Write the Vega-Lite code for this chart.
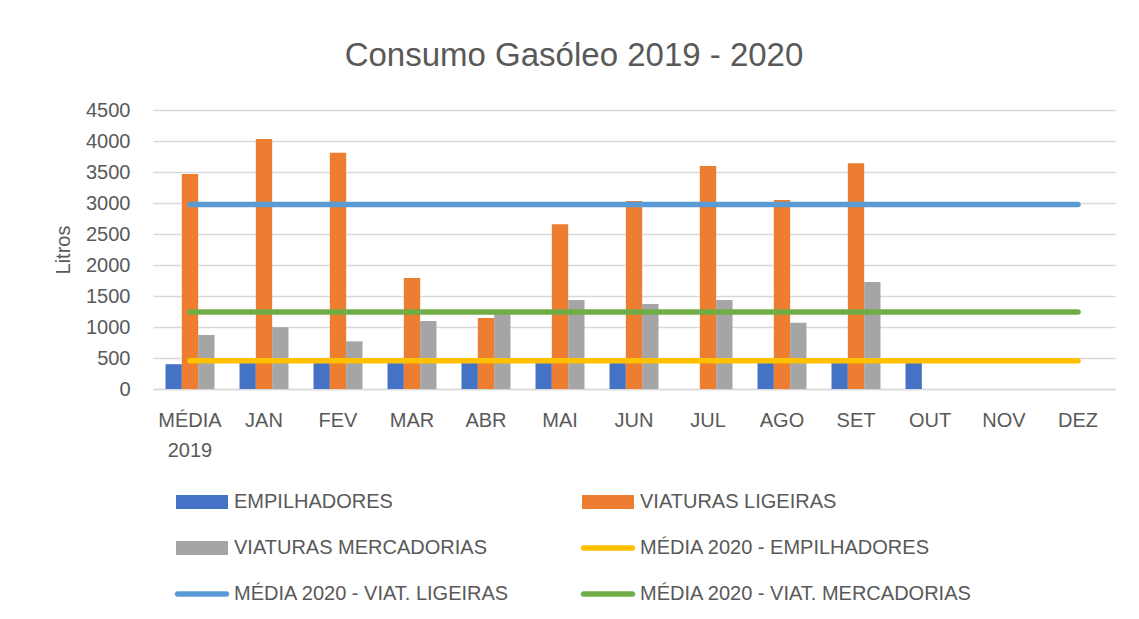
{
  "$schema": "https://vega.github.io/schema/vega-lite/v6.json",
  "width": 962,
  "height": 279,
  "autosize": {"type": "none"},
  "padding": {"left": 153, "top": 110, "right": 24, "bottom": 230},
  "background": "white",
  "config": {"font": "Liberation Sans", "view": {"stroke": null}},
  "title": {"text": "Consumo Gasóleo 2019 - 2020", "fontSize": 33, "fontWeight": "normal", "color": "#595959", "anchor": "middle", "dx": -60, "offset": 27},
  "datasets": {
    "bars": [
      {"cat": "MÉDIA 2019", "series": "EMPILHADORES", "value": 400},
      {"cat": "MÉDIA 2019", "series": "VIATURAS LIGEIRAS", "value": 3468},
      {"cat": "MÉDIA 2019", "series": "VIATURAS MERCADORIAS", "value": 871},
      {"cat": "JAN", "series": "EMPILHADORES", "value": 488},
      {"cat": "JAN", "series": "VIATURAS LIGEIRAS", "value": 4032},
      {"cat": "JAN", "series": "VIATURAS MERCADORIAS", "value": 995},
      {"cat": "FEV", "series": "EMPILHADORES", "value": 485},
      {"cat": "FEV", "series": "VIATURAS LIGEIRAS", "value": 3811},
      {"cat": "FEV", "series": "VIATURAS MERCADORIAS", "value": 769},
      {"cat": "MAR", "series": "EMPILHADORES", "value": 490},
      {"cat": "MAR", "series": "VIATURAS LIGEIRAS", "value": 1790},
      {"cat": "MAR", "series": "VIATURAS MERCADORIAS", "value": 1097},
      {"cat": "ABR", "series": "EMPILHADORES", "value": 482},
      {"cat": "ABR", "series": "VIATURAS LIGEIRAS", "value": 1145},
      {"cat": "ABR", "series": "VIATURAS MERCADORIAS", "value": 1258},
      {"cat": "MAI", "series": "EMPILHADORES", "value": 488},
      {"cat": "MAI", "series": "VIATURAS LIGEIRAS", "value": 2656},
      {"cat": "MAI", "series": "VIATURAS MERCADORIAS", "value": 1435},
      {"cat": "JUN", "series": "EMPILHADORES", "value": 485},
      {"cat": "JUN", "series": "VIATURAS LIGEIRAS", "value": 3032},
      {"cat": "JUN", "series": "VIATURAS MERCADORIAS", "value": 1371},
      {"cat": "JUL", "series": "EMPILHADORES", "value": 0},
      {"cat": "JUL", "series": "VIATURAS LIGEIRAS", "value": 3597},
      {"cat": "JUL", "series": "VIATURAS MERCADORIAS", "value": 1435},
      {"cat": "AGO", "series": "EMPILHADORES", "value": 488},
      {"cat": "AGO", "series": "VIATURAS LIGEIRAS", "value": 3048},
      {"cat": "AGO", "series": "VIATURAS MERCADORIAS", "value": 1070},
      {"cat": "SET", "series": "EMPILHADORES", "value": 490},
      {"cat": "SET", "series": "VIATURAS LIGEIRAS", "value": 3640},
      {"cat": "SET", "series": "VIATURAS MERCADORIAS", "value": 1726},
      {"cat": "OUT", "series": "EMPILHADORES", "value": 492}
    ],
    "lines": [
      {"cat": "MÉDIA 2019", "series": "MÉDIA 2020 - EMPILHADORES", "value": 455},
      {"cat": "JAN", "series": "MÉDIA 2020 - EMPILHADORES", "value": 455},
      {"cat": "FEV", "series": "MÉDIA 2020 - EMPILHADORES", "value": 455},
      {"cat": "MAR", "series": "MÉDIA 2020 - EMPILHADORES", "value": 455},
      {"cat": "ABR", "series": "MÉDIA 2020 - EMPILHADORES", "value": 455},
      {"cat": "MAI", "series": "MÉDIA 2020 - EMPILHADORES", "value": 455},
      {"cat": "JUN", "series": "MÉDIA 2020 - EMPILHADORES", "value": 455},
      {"cat": "JUL", "series": "MÉDIA 2020 - EMPILHADORES", "value": 455},
      {"cat": "AGO", "series": "MÉDIA 2020 - EMPILHADORES", "value": 455},
      {"cat": "SET", "series": "MÉDIA 2020 - EMPILHADORES", "value": 455},
      {"cat": "OUT", "series": "MÉDIA 2020 - EMPILHADORES", "value": 455},
      {"cat": "NOV", "series": "MÉDIA 2020 - EMPILHADORES", "value": 455},
      {"cat": "DEZ", "series": "MÉDIA 2020 - EMPILHADORES", "value": 455},
      {"cat": "MÉDIA 2019", "series": "MÉDIA 2020 - VIAT. LIGEIRAS", "value": 2975},
      {"cat": "JAN", "series": "MÉDIA 2020 - VIAT. LIGEIRAS", "value": 2975},
      {"cat": "FEV", "series": "MÉDIA 2020 - VIAT. LIGEIRAS", "value": 2975},
      {"cat": "MAR", "series": "MÉDIA 2020 - VIAT. LIGEIRAS", "value": 2975},
      {"cat": "ABR", "series": "MÉDIA 2020 - VIAT. LIGEIRAS", "value": 2975},
      {"cat": "MAI", "series": "MÉDIA 2020 - VIAT. LIGEIRAS", "value": 2975},
      {"cat": "JUN", "series": "MÉDIA 2020 - VIAT. LIGEIRAS", "value": 2975},
      {"cat": "JUL", "series": "MÉDIA 2020 - VIAT. LIGEIRAS", "value": 2975},
      {"cat": "AGO", "series": "MÉDIA 2020 - VIAT. LIGEIRAS", "value": 2975},
      {"cat": "SET", "series": "MÉDIA 2020 - VIAT. LIGEIRAS", "value": 2975},
      {"cat": "OUT", "series": "MÉDIA 2020 - VIAT. LIGEIRAS", "value": 2975},
      {"cat": "NOV", "series": "MÉDIA 2020 - VIAT. LIGEIRAS", "value": 2975},
      {"cat": "DEZ", "series": "MÉDIA 2020 - VIAT. LIGEIRAS", "value": 2975},
      {"cat": "MÉDIA 2019", "series": "MÉDIA 2020 - VIAT. MERCADORIAS", "value": 1240},
      {"cat": "JAN", "series": "MÉDIA 2020 - VIAT. MERCADORIAS", "value": 1240},
      {"cat": "FEV", "series": "MÉDIA 2020 - VIAT. MERCADORIAS", "value": 1240},
      {"cat": "MAR", "series": "MÉDIA 2020 - VIAT. MERCADORIAS", "value": 1240},
      {"cat": "ABR", "series": "MÉDIA 2020 - VIAT. MERCADORIAS", "value": 1240},
      {"cat": "MAI", "series": "MÉDIA 2020 - VIAT. MERCADORIAS", "value": 1240},
      {"cat": "JUN", "series": "MÉDIA 2020 - VIAT. MERCADORIAS", "value": 1240},
      {"cat": "JUL", "series": "MÉDIA 2020 - VIAT. MERCADORIAS", "value": 1240},
      {"cat": "AGO", "series": "MÉDIA 2020 - VIAT. MERCADORIAS", "value": 1240},
      {"cat": "SET", "series": "MÉDIA 2020 - VIAT. MERCADORIAS", "value": 1240},
      {"cat": "OUT", "series": "MÉDIA 2020 - VIAT. MERCADORIAS", "value": 1240},
      {"cat": "NOV", "series": "MÉDIA 2020 - VIAT. MERCADORIAS", "value": 1240},
      {"cat": "DEZ", "series": "MÉDIA 2020 - VIAT. MERCADORIAS", "value": 1240}
    ]
  },
  "layer": [
    {
      "data": {"name": "bars"},
      "mark": {"type": "bar"},
      "encoding": {
        "x": {
          "field": "cat", "type": "nominal",
          "sort": ["MÉDIA 2019", "JAN", "FEV", "MAR", "ABR", "MAI", "JUN", "JUL", "AGO", "SET", "OUT", "NOV", "DEZ"],
          "scale": {"domain": ["MÉDIA 2019", "JAN", "FEV", "MAR", "ABR", "MAI", "JUN", "JUL", "AGO", "SET", "OUT", "NOV", "DEZ"], "paddingInner": 0.338, "paddingOuter": 0.169},
          "axis": {
            "title": null, "labelFontSize": 20, "labelColor": "#595959", "labelPadding": 21,
            "ticks": false, "domainColor": "#D9D9D9", "domainWidth": 1.5, "labelAngle": 0,
            "labelLineHeight": 30,
            "labelExpr": "datum.value == 'MÉDIA 2019' ? ['MÉDIA', '2019'] : datum.value"
          }
        },
        "xOffset": {
          "field": "series", "type": "nominal",
          "scale": {"domain": ["EMPILHADORES", "VIATURAS LIGEIRAS", "VIATURAS MERCADORIAS"], "paddingInner": 0, "paddingOuter": 0}
        },
        "y": {
          "field": "value", "type": "quantitative",
          "scale": {"domain": [0, 4500], "nice": false},
          "axis": {
            "values": [0, 500, 1000, 1500, 2000, 2500, 3000, 3500, 4000, 4500],
            "format": "d", "labelOverlap": false,
            "title": "Litros", "titleFontSize": 20, "titleFontWeight": "normal", "titleColor": "#595959", "titlePadding": 12,
            "labelFontSize": 20, "labelColor": "#595959", "labelPadding": 23,
            "ticks": false, "domain": false, "gridColor": "#D9D9D9", "gridWidth": 1.3
          }
        },
        "color": {
          "field": "series", "type": "nominal",
          "scale": {
            "domain": ["EMPILHADORES", "VIATURAS LIGEIRAS", "VIATURAS MERCADORIAS", "MÉDIA 2020 - EMPILHADORES", "MÉDIA 2020 - VIAT. LIGEIRAS", "MÉDIA 2020 - VIAT. MERCADORIAS"],
            "range": ["#4472C4", "#ED7D31", "#A5A5A5", "#FFC000", "#5B9BD5", "#70AD47"]
          },
          "legend": {
            "orient": "none", "legendX": 23, "legendY": 382,
            "direction": "horizontal",
            "columns": 2, "gridAlign": "all", "columnPadding": 14, "rowPadding": 26,
            "title": null, "labelFontSize": 20, "labelColor": "#595959", "labelLimit": 600,
            "symbolSize": 100, "symbolOffset": 16, "labelOffset": 22, "padding": 0,
            "symbolStrokeWidth": 0,
            "encode": {
              "symbols": {
                "update": {
                  "shape": {"signal": "indexof(datum.value, 'MÉDIA') == 0 ? 'M-4.9,-0.55H4.9A0.55,0.55,0,0,1,4.9,0.55H-4.9A0.55,0.55,0,0,1,-4.9,-0.55Z' : 'M-5.2,-1.4H5.2V1.4H-5.2Z'"},
                  "fill": {"scale": "color", "field": "value"},
                  "opacity": {"value": 1}
                }
              }
            }
          }
        }
      }
    },
    {
      "data": {"name": "lines"},
      "mark": {"type": "line", "strokeWidth": 5.5, "strokeCap": "round"},
      "encoding": {
        "x": {"field": "cat", "type": "nominal", "sort": ["MÉDIA 2019", "JAN", "FEV", "MAR", "ABR", "MAI", "JUN", "JUL", "AGO", "SET", "OUT", "NOV", "DEZ"]},
        "y": {
          "field": "value", "type": "quantitative",
          "scale": {"domain": [0, 4500], "nice": false},
          "axis": {
            "values": [0, 500, 1000, 1500, 2000, 2500, 3000, 3500, 4000, 4500],
            "format": "d", "labelOverlap": false,
            "title": "Litros", "titleFontSize": 20, "titleFontWeight": "normal", "titleColor": "#595959", "titlePadding": 12,
            "labelFontSize": 20, "labelColor": "#595959", "labelPadding": 23,
            "ticks": false, "domain": false, "gridColor": "#D9D9D9", "gridWidth": 1.3
          }
        },
        "color": {"field": "series", "type": "nominal"}
      }
    }
  ]
}
